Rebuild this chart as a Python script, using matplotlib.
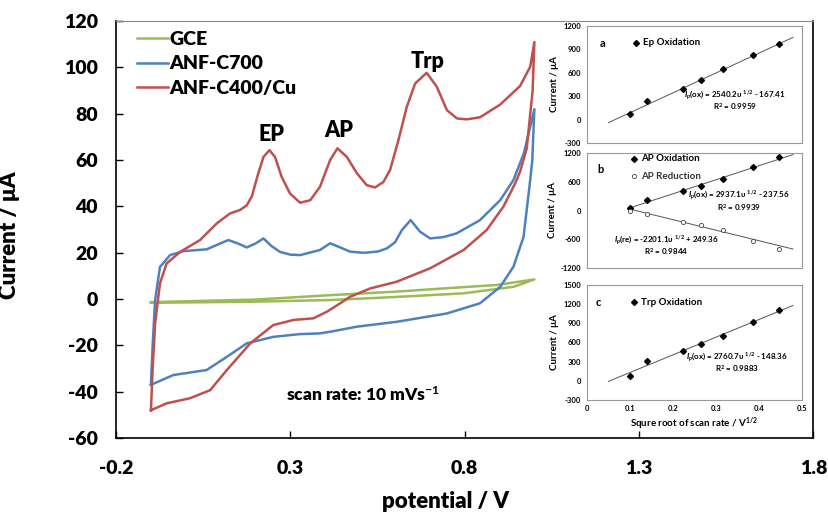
import matplotlib
matplotlib.use("Agg")
import matplotlib.pyplot as plt
import numpy as np

plt.rcParams['font.family'] = ['Lato', 'DejaVu Sans']
plt.rcParams['font.weight'] = 'bold'
plt.rcParams['axes.unicode_minus'] = False
plt.rcParams['mathtext.fontset'] = 'custom'
plt.rcParams['mathtext.rm'] = 'Lato:bold'
plt.rcParams['mathtext.it'] = 'Lato:italic:bold'
plt.rcParams['mathtext.bf'] = 'Lato:bold'
plt.rcParams['mathtext.default'] = 'rm'

# ---- CV curves (potential / V, current / uA), forward then reverse scan ----
gce_v = [-0.10, 0.20, 0.414, 0.60, 0.80, 0.892, 1.00,
         0.94, 0.797, 0.60, 0.414, 0.20, -0.10]
gce_i = [-1.3, -0.2, 1.7, 3.2, 5.2, 6.1, 8.5,
         5.3, 2.5, 0.9, -0.4, -1.1, -1.6]

c700_v = [-0.100, -0.095, -0.088, -0.074, -0.045, -0.007, 0.06, 0.122, 0.150, 0.175,
          0.200, 0.223, 0.245, 0.270, 0.300, 0.328, 0.385, 0.414, 0.440, 0.471, 0.510,
          0.550, 0.577, 0.600, 0.620, 0.645, 0.672, 0.701, 0.740, 0.777, 0.844, 0.902,
          0.940, 0.970, 1.000,
          0.994, 0.988, 0.969, 0.940, 0.902, 0.844, 0.749, 0.605, 0.491, 0.414,
          0.385, 0.328, 0.251, 0.175, 0.118, 0.060, -0.036, -0.100]
c700_i = [-37, -20, -0.4, 13.9, 19, 20.7, 21.5, 25.5, 24, 22.3,
          24, 26.2, 23, 20.4, 19.2, 19, 21.2, 24.1, 22.5, 20.5, 20,
          20.5, 21.9, 24.5, 29.8, 34.1, 29.1, 26.2, 26.8, 28.4, 34.1, 42.7,
          51.4, 63, 82,
          60, 51.4, 26.9, 14, 5.3, -1.8, -6.2, -9.8, -11.9, -14.1,
          -14.8, -15.1, -16.3, -19.1, -24.9, -30.6, -32.8, -37]

cu_v = [-0.100, -0.095, -0.088, -0.074, -0.055, -0.016, 0.041, 0.089, 0.127, 0.156,
        0.175, 0.190, 0.205, 0.223, 0.240, 0.256, 0.275, 0.299, 0.328, 0.357,
        0.385, 0.414, 0.435, 0.462, 0.491, 0.519, 0.543, 0.567, 0.586, 0.610,
        0.634, 0.658, 0.691, 0.720, 0.749, 0.778, 0.806, 0.844, 0.902, 0.959,
        0.988, 1.000,
        0.995, 0.978, 0.959, 0.945, 0.911, 0.863, 0.797, 0.701, 0.605, 0.529,
        0.471, 0.443, 0.404, 0.366, 0.309, 0.251, 0.185, 0.118, 0.070, 0.012,
        -0.055, -0.100]
cu_i = [-48, -30, -10.5, 6.8, 15.4, 20.4, 25.5, 32.7, 37, 38.5,
        40.5, 44.5, 52.8, 61.4, 64.3, 61.4, 52.8, 45.6, 41.6, 42.7,
        48.5, 60.0, 65.1, 61.4, 54.3, 49.2, 48.2, 50.6, 55.7, 68.6,
        83.0, 93.1, 97.7, 91.7, 81.6, 78.0, 77.6, 78.5, 84, 92,
        100.3, 111,
        90, 65, 55, 50, 39.9, 29.8, 21.2, 13.3, 7.5, 4.6,
        1.0, -1.8, -5.5, -8.3, -9.0, -11.2, -19.1, -30.6, -39.3, -42.8,
        -45, -48]

# ---- inset data: square root of scan rate vs peak current ----
sqrt_v = [0.100, 0.141, 0.224, 0.265, 0.316, 0.387, 0.447]
ep_ox = [71, 241, 390, 506, 646, 821, 961]
ap_ox = [52, 219, 414, 518, 664, 922, 1123]
ap_re = [-17, -80, -240, -303, -414, -630, -797]
trp_ox = [81, 316, 472, 571, 697, 921, 1114]

fit_x = [0.05, 0.48]
fit_x_b = [0.095, 0.48]
ep_fit = (2540.2, -167.41)
ap_ox_fit = (2937.1, -237.56)
ap_re_fit = (-2201.1, 249.36)
trp_fit = (2760.7, -148.36)

green = '#9BBB59'
blue = '#4F81BD'
red = '#C0504D'

fig = plt.figure(figsize=(8.29, 5.16), dpi=100)
ax = fig.add_axes([0.140, 0.151, 0.841, 0.808])

ax.plot(gce_v, gce_i, color=green, lw=1.8, label='GCE')
ax.plot(c700_v, c700_i, color=blue, lw=1.8, label='ANF-C700')
ax.plot(cu_v, cu_i, color=red, lw=1.8, label='ANF-C400/Cu')

ax.set_xlim(-0.2, 1.8)
ax.set_ylim(-60, 120)
ax.set_xticks([-0.2, 0.3, 0.8, 1.3, 1.8])
ax.set_xticklabels(['-0.2', '0.3', '0.8', '1.3', '1.8'])
ax.set_yticks(np.arange(-60, 121, 20))
ax.tick_params(direction='in', length=5, width=1, labelsize=14)
ax.tick_params(axis='x', pad=16)
ax.tick_params(axis='y', pad=13)
for lab in ax.get_xticklabels() + ax.get_yticklabels():
    lab.set_fontweight('heavy')
for s in ['left', 'bottom', 'right']:
    ax.spines[s].set_linewidth(1.2)
ax.spines['top'].set_color('#888888')

ax.set_ylabel('Current / μA', fontsize=16, fontweight='heavy')
ax.yaxis.set_label_coords(-0.138, 0.487)
ax.set_xlabel('potential / V', fontsize=16, fontweight='heavy')
ax.xaxis.set_label_coords(0.472, -0.128)

leg = ax.legend(loc='upper left', bbox_to_anchor=(0.01, 1.01), frameon=False,
                fontsize=14, handlelength=1.6, handletextpad=0.1,
                labelspacing=0.4, borderaxespad=0.3)
for t in leg.get_texts():
    t.set_fontweight('heavy')

ax.text(0.245, 71, 'EP', fontsize=15.5, fontweight='heavy', ha='center', va='center')
ax.text(0.44, 73, 'AP', fontsize=15.5, fontweight='heavy', ha='center', va='center')
ax.text(0.695, 102.5, 'Trp', fontsize=15.5, fontweight='heavy', ha='center', va='center')
ax.text(0.509, -41.4, 'scan rate: 10 mVs$^{-1}$', fontsize=12.5, fontweight='heavy',
        ha='center', va='center')

# ---- insets ----
def style_inset(a, yticks, show_x):
    a.set_xlim(0, 0.5)
    a.set_ylim(yticks[0], yticks[-1])
    a.set_yticks(yticks)
    a.set_xticks(np.arange(0, 0.51, 0.1))
    a.tick_params(labelsize=5.5, length=0, pad=4)
    if show_x:
        a.set_xticklabels(['0', '0.1', '0.2', '0.3', '0.4', '0.5'])
    else:
        a.set_xticklabels([])
    for lab in a.get_xticklabels() + a.get_yticklabels():
        lab.set_fontweight('bold')
    for s in a.spines.values():
        s.set_color('#999999')
        s.set_linewidth(0.8)
    a.set_ylabel('Current / μA', fontsize=7, fontweight='bold', labelpad=3)

L, W = 0.708, 0.259
ax_a = fig.add_axes([L, 0.723, W, 0.227])
ax_b = fig.add_axes([L, 0.481, W, 0.222])
ax_c = fig.add_axes([L, 0.225, W, 0.223])

fs_eq = 5.8

# a: Ep
fx = np.array(fit_x)
ax_a.plot(fx, ep_fit[0] * fx + ep_fit[1], color='#555555', lw=0.7)
ax_a.plot(sqrt_v, ep_ox, 'D', color='black', ms=3)
style_inset(ax_a, [-300, 0, 300, 600, 900, 1200], False)
ax_a.text(0.06, 0.85, 'a', transform=ax_a.transAxes, fontsize=8, fontweight='bold', va='center')
ax_a.plot([0.23], [0.855], 'D', color='black', ms=3, transform=ax_a.transAxes)
ax_a.text(0.26, 0.855, 'Ep Oxidation', transform=ax_a.transAxes, fontsize=7, fontweight='bold', va='center')
ax_a.text(0.69, 0.41, '$\\mathit{I}_\\mathit{p}$(ox) = 2540.2υ $^{1/2}$ - 167.41', transform=ax_a.transAxes,
          fontsize=fs_eq, fontweight='bold', ha='center', va='center')
ax_a.text(0.69, 0.31, 'R$^2$ = 0.9959', transform=ax_a.transAxes,
          fontsize=fs_eq, fontweight='bold', ha='center', va='center')

# b: AP
fxb = np.array(fit_x_b)
ax_b.plot(fxb, ap_ox_fit[0] * fxb + ap_ox_fit[1], color='#555555', lw=0.7)
ax_b.plot(fxb, ap_re_fit[0] * fxb + ap_re_fit[1], color='#555555', lw=0.7)
ax_b.plot(sqrt_v, ap_ox, 'D', color='black', ms=3)
ax_b.plot(sqrt_v, ap_re, 'o', mfc='white', mec='#444444', mew=0.6, ms=3)
style_inset(ax_b, [-1200, -600, 0, 600, 1200], False)
ax_b.text(0.05, 0.86, 'b', transform=ax_b.transAxes, fontsize=8, fontweight='bold', va='center')
ax_b.plot([0.22], [0.95], 'D', color='black', ms=3, transform=ax_b.transAxes)
ax_b.text(0.25, 0.95, 'AP Oxidation', transform=ax_b.transAxes, fontsize=7, fontweight='bold', va='center')
ax_b.plot([0.22], [0.80], 'o', mfc='white', mec='#444444', mew=0.6, ms=3, transform=ax_b.transAxes)
ax_b.text(0.25, 0.80, 'AP Reduction', transform=ax_b.transAxes, fontsize=7, fontweight='bold',
          va='center', color='#333333')
ax_b.text(0.71, 0.63, '$\\mathit{I}_\\mathit{p}$(ox) = 2937.1υ $^{1/2}$ - 237.56', transform=ax_b.transAxes,
          fontsize=fs_eq, fontweight='bold', ha='center', va='center')
ax_b.text(0.71, 0.53, 'R$^2$ = 0.9939', transform=ax_b.transAxes,
          fontsize=fs_eq, fontweight='bold', ha='center', va='center')
ax_b.text(0.37, 0.24, '$\\mathit{I}_\\mathit{p}$(re) = -2201.1υ $^{1/2}$ + 249.36', transform=ax_b.transAxes,
          fontsize=fs_eq, fontweight='bold', ha='center', va='center')
ax_b.text(0.37, 0.14, 'R$^2$ = 0.9844', transform=ax_b.transAxes,
          fontsize=fs_eq, fontweight='bold', ha='center', va='center')

# c: Trp
ax_c.plot(fx, trp_fit[0] * fx + trp_fit[1], color='#555555', lw=0.7)
ax_c.plot(sqrt_v, trp_ox, 'D', color='black', ms=3)
style_inset(ax_c, [-300, 0, 300, 600, 900, 1200, 1500], True)
ax_c.text(0.04, 0.85, 'c', transform=ax_c.transAxes, fontsize=8, fontweight='bold', va='center')
ax_c.plot([0.22], [0.85], 'D', color='black', ms=3, transform=ax_c.transAxes)
ax_c.text(0.25, 0.85, 'Trp Oxidation', transform=ax_c.transAxes, fontsize=7, fontweight='bold', va='center')
ax_c.text(0.70, 0.37, '$\\mathit{I}_\\mathit{p}$(ox) = 2760.7υ $^{1/2}$ - 148.36', transform=ax_c.transAxes,
          fontsize=fs_eq, fontweight='bold', ha='center', va='center')
ax_c.text(0.70, 0.27, 'R$^2$ = 0.9883', transform=ax_c.transAxes,
          fontsize=fs_eq, fontweight='bold', ha='center', va='center')
ax_c.set_xlabel('Squre root of scan rate / V$^{1/2}$', fontsize=7, fontweight='bold', labelpad=2)

fig.savefig('out.png', dpi=100)
